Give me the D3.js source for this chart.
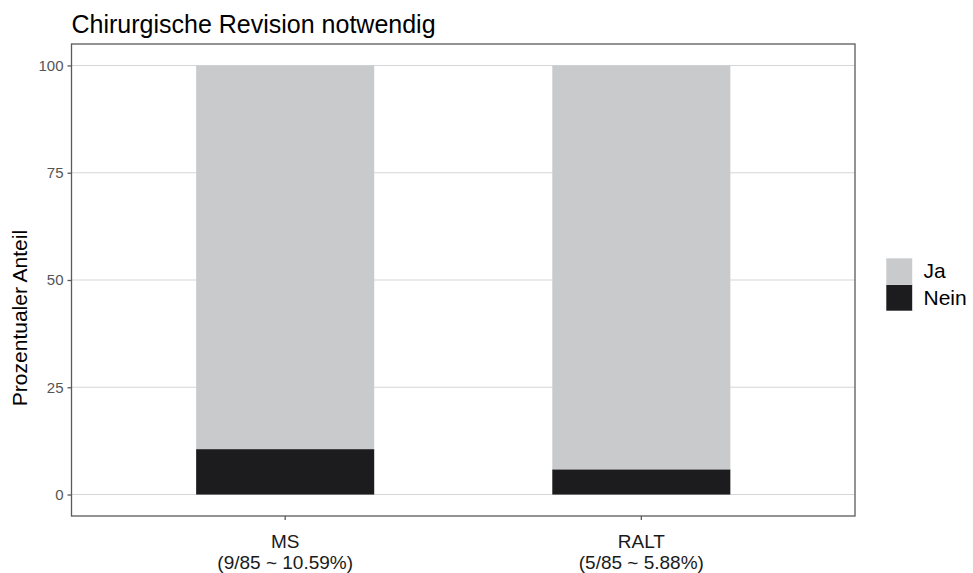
<!DOCTYPE html>
<html>
<head>
<meta charset="utf-8">
<script src="https://cdn.jsdelivr.net/npm/d3@7"></script>
<style>
  body { margin: 0; background: #fff; }
  text { font-family: "Liberation Sans", Arial, sans-serif; }
</style>
</head>
<body>
<svg id="chart" width="973" height="573"></svg>
<script>
// data
const groups = ["MS", "RALT"]
const groupSubLabels = ["(9/85 ~ 10.59%)", "(5/85 ~ 5.88%)"]
const neinValues = [10.59, 5.88]
const jaValues = [89.41, 94.12]
const legendLabels = ["Ja", "Nein"]
const yTicks = [0, 25, 50, 75, 100]

const colors = {Ja: "#c9cacc", Nein: "#1c1c1e"}

// panel box
const panel = {left: 71.5, right: 855, top: 44, bottom: 516}

const svg = d3.select("#chart")

//discrete x scale, ggplot style expansion of 0.6 on each side
const x = d3.scaleLinear()
    .domain([0.4, groups.length + 0.6])
    .range([panel.left, panel.right])
const barWidth = 0.5

//y with 5% expansion
const y = d3.scaleLinear()
    .domain([-5, 105])
    .range([panel.bottom, panel.top])

// grid lines
svg.append("g")
    .selectAll("line")
    .data(yTicks)
    .join("line")
    .attr("x1", panel.left)
    .attr("x2", panel.right)
    .attr("y1", d => y(d))
    .attr("y2", d => y(d))
    .attr("stroke", "#d6d6d6")
    .attr("stroke-width", 1.1)

// stacked data: Nein at bottom, Ja on top
const rows = groups.map((g, i) => ({group: g, Nein: neinValues[i], Ja: jaValues[i]}))
const stack = d3.stack().keys(["Nein", "Ja"])(rows)

svg.append("g")
    .selectAll("g")
    .data(stack)
    .join("g")
    .attr("fill", d => colors[d.key])
    .selectAll("rect")
    .data(d => d)
    .join("rect")
    .attr("x", (d, i) => x(i + 1 - barWidth / 2))
    .attr("width", (d, i) => x(i + 1 + barWidth / 2) - x(i + 1 - barWidth / 2))
    .attr("y", d => y(d[1]))
    .attr("height", d => y(d[0]) - y(d[1]))

// panel border
svg.append("rect")
    .attr("x", panel.left)
    .attr("y", panel.top)
    .attr("width", panel.right - panel.left)
    .attr("height", panel.bottom - panel.top)
    .attr("fill", "none")
    .attr("stroke", "#5a5a5a")
    .attr("stroke-width", 1.3)

// y axis
const yAxis = svg.append("g")
    .attr("transform", `translate(${panel.left},0)`)
    .call(d3.axisLeft(y).tickValues(yTicks).tickSize(4).tickPadding(4))
yAxis.select(".domain").remove()
yAxis.selectAll(".tick line").attr("stroke", "#5a5a5a").attr("stroke-width", 1.3)
yAxis.selectAll(".tick text")
    .attr("fill", "#555")
    .style("font-size", "15px")
    .style("font-family", "Liberation Sans, Arial, sans-serif")

// x axis ticks
const xg = svg.append("g")
    .selectAll("g")
    .data(groups)
    .join("g")
    .attr("transform", (d, i) => `translate(${x(i + 1)},${panel.bottom})`)
xg.append("line")
    .attr("y1", 0).attr("y2", 4)
    .attr("stroke", "#5a5a5a").attr("stroke-width", 1.3)
xg.append("text")
    .attr("text-anchor", "middle")
    .attr("y", 32)
    .attr("fill", "#1a1a1a")
    .style("font-size", "19px")
    .text(d => d)
xg.append("text")
    .attr("text-anchor", "middle")
    .attr("y", 53)
    .attr("fill", "#1a1a1a")
    .style("font-size", "19px")
    .text((d, i) => groupSubLabels[i])

// title
svg.append("text")
    .attr("x", panel.left)
    .attr("y", 33)
    .attr("fill", "#000")
    .style("font-size", "25px")
    .text("Chirurgische Revision notwendig")

// y axis title
svg.append("text")
    .attr("transform", "translate(27,318) rotate(-90)")
    .attr("text-anchor", "middle")
    .attr("fill", "#000")
    .style("font-size", "21px")
    .text("Prozentualer Anteil")

// legend
const legend = svg.append("g")
    .attr("transform", "translate(886,258)")
const keySize = 26.5
const li = legend.selectAll("g")
    .data(legendLabels)
    .join("g")
    .attr("transform", (d, i) => `translate(0,${i * keySize})`)
li.append("rect")
    .attr("width", keySize)
    .attr("height", keySize)
    .attr("fill", d => colors[d])
    .attr("stroke", "#fff")
    .attr("stroke-width", 0.6)
li.append("text")
    .attr("x", keySize + 11)
    .attr("y", 20)
    .attr("fill", "#000")
    .style("font-size", "21px")
    .text(d => d)
</script>
</body>
</html>
